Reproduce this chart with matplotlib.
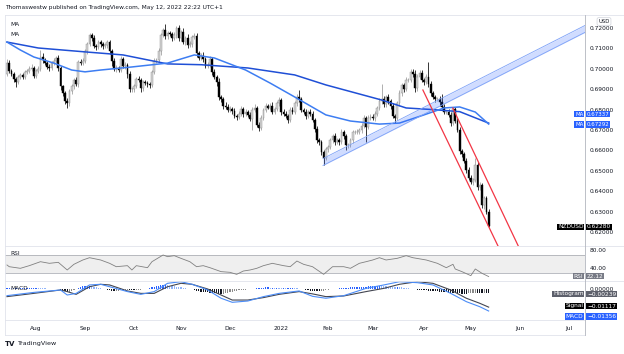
import numpy as np
import pandas as pd
import matplotlib
matplotlib.use('Agg')
import matplotlib.pyplot as plt
from matplotlib.lines import Line2D

W, H = 624, 354
FS = 4.2
TXT = '#131722'
BORDER = '#e0e3eb'
plt.rcParams['font.family'] = ['DejaVu Sans']

# NZD/USD daily closes, 14 Jul 2021 - 12 May 2022
jul = [0.7030, 0.6990, 0.6975, 0.6950, 0.6935, 0.6960, 0.6970, 0.6960, 0.6985, 0.6990, 0.7000, 0.7005, 0.6965]
aug = [0.6990, 0.7000, 0.7060, 0.7045, 0.7030, 0.7010, 0.7005, 0.7030, 0.7040, 0.7055, 0.7005,
       0.6915, 0.6880, 0.6840, 0.6830, 0.6890, 0.6915, 0.6945, 0.6925, 0.7035, 0.7030, 0.7040]
sep = [0.7085, 0.7120, 0.7165, 0.7150, 0.7110, 0.7105, 0.7130, 0.7120, 0.7110, 0.7115, 0.7130,
       0.7085, 0.7040, 0.7000, 0.7005, 0.6995, 0.7050, 0.7015, 0.7020, 0.6975, 0.6900, 0.6900]
oct_ = [0.6915, 0.6950, 0.6945, 0.6905, 0.6935, 0.6930, 0.6925, 0.6920, 0.6985, 0.7040, 0.7045,
        0.7085, 0.7165, 0.7190, 0.7160, 0.7175, 0.7170, 0.7150, 0.7165, 0.7200, 0.7150]
nov = [0.7180, 0.7130, 0.7150, 0.7115, 0.7120, 0.7155, 0.7160, 0.7075, 0.7055, 0.7065, 0.7050,
       0.7015, 0.7020, 0.7050, 0.6985, 0.6960, 0.6935, 0.6860, 0.6850, 0.6820, 0.6815, 0.6800]
dec = [0.6805, 0.6795, 0.6770, 0.6765, 0.6780, 0.6805, 0.6780, 0.6790, 0.6775, 0.6755, 0.6800, 0.6810,
       0.6725, 0.6710, 0.6760, 0.6800, 0.6820, 0.6810, 0.6820, 0.6790, 0.6805, 0.6830, 0.6845]
jan = [0.6790, 0.6780, 0.6770, 0.6750, 0.6800, 0.6790, 0.6830, 0.6860, 0.6850, 0.6800, 0.6790,
       0.6770, 0.6790, 0.6780, 0.6750, 0.6705, 0.6650, 0.6640, 0.6590, 0.6565, 0.6605]
feb = [0.6615, 0.6650, 0.6670, 0.6640, 0.6650, 0.6640, 0.6690, 0.6670, 0.6625, 0.6625,
       0.6650, 0.6690, 0.6690, 0.6690, 0.6700, 0.6720, 0.6757, 0.6715, 0.6760, 0.6765]
mar = [0.6760, 0.6780, 0.6810, 0.6840, 0.6850, 0.6825, 0.6860, 0.6840, 0.6820, 0.6770, 0.6760, 0.6830,
       0.6880, 0.6920, 0.6900, 0.6945, 0.6945, 0.6985, 0.6975, 0.6905, 0.6960, 0.6980, 0.6945]
apr = [0.6935, 0.6960, 0.6925, 0.6880, 0.6860, 0.6850, 0.6850, 0.6835, 0.6815, 0.6790, 0.6790,
       0.6775, 0.6735, 0.6805, 0.6745, 0.6700, 0.6595, 0.6580, 0.6550, 0.6505, 0.6465]
may = [0.6445, 0.6455, 0.6530, 0.6420, 0.6430, 0.6330, 0.6365, 0.6300, 0.6228]
first_open = 0.6975

# wick lengths beyond the body, in pips
wick_up = [20, 15, 10, 8, 10, 12, 10, 8, 10, 8, 15, 20, 10,
           10, 12, 30, 15, 10, 10, 12, 10, 12, 10, 15, 10, 8, 10, 15, 10, 12, 10, 15, 10, 12, 15,
           10, 10, 10, 12, 15, 10, 12, 10, 12, 10, 12, 10, 10, 15, 12, 10, 15, 10, 12, 10, 12, 10,
           10, 12, 15, 10, 12, 10, 10, 12, 10, 12, 10, 15, 10, 10, 30, 12, 10, 12, 15, 12, 15,
           10, 20, 12, 20, 15, 10, 15, 15, 10, 12, 15, 10, 15, 12, 10, 15, 12, 20, 12, 10, 15, 12,
           15, 10, 12, 10, 15, 12, 10, 12, 10, 15, 12, 15, 10, 12, 15, 10, 10, 8, 10, 15, 10, 12, 15,
           10, 12, 15, 10, 12, 12, 10, 15, 35, 12, 10, 15, 10, 15, 12, 10, 15, 12, 10, 12, 10,
           12, 10, 12, 15, 10, 12, 15, 12, 10, 12, 10, 12, 10, 15, 10, 12, 15, 10, 15, 12,
           15, 12, 10, 15, 75, 15, 12, 15, 10, 12, 10, 12, 15, 10, 12, 15, 10, 15, 12, 20, 15, 12, 15,
           12, 15, 75, 15, 12, 10, 12, 15, 40, 12, 10, 15, 12, 10, 7, 12, 15, 10, 12, 15, 12,
           15, 12, 35, 12, 15, 10, 12, 10, 12]
wick_dn = [10, 12, 10, 15, 25, 10, 12, 10, 8, 12, 10, 10, 12,
           12, 10, 10, 15, 12, 10, 15, 10, 12, 10, 15, 20, 15, 12, 20, 10, 12, 15, 10, 12, 10, 12,
           10, 12, 10, 12, 10, 12, 10, 15, 12, 10, 15, 12, 25, 12, 15, 10, 12, 10, 15, 20, 12, 15,
           15, 10, 12, 20, 12, 10, 12, 15, 10, 12, 10, 12, 15, 10, 12, 15, 10, 12, 10, 12, 15,
           12, 10, 15, 12, 10, 12, 10, 15, 12, 10, 15, 12, 10, 12, 15, 12, 20, 15, 12, 15, 10, 12,
           12, 15, 10, 15, 12, 10, 15, 12, 10, 12, 55, 12, 10, 15, 10, 12, 10, 8, 12, 10, 12, 10, 10,
           15, 12, 10, 15, 12, 10, 12, 10, 12, 10, 12, 15, 12, 10, 12, 15, 12, 15, 12, 35, 12,
           12, 10, 15, 12, 10, 12, 10, 15, 25, 12, 10, 12, 10, 12, 10, 15, 12, 75, 10, 12,
           12, 15, 10, 12, 15, 12, 10, 12, 15, 12, 25, 12, 10, 15, 12, 10, 12, 10, 15, 20, 12, 10, 12,
           12, 10, 15, 12, 10, 12, 10, 15, 12, 10, 12, 10, 15, 12, 10, 12, 15, 12, 10, 15, 12,
           12, 15, 10, 15, 12, 10, 15, 10, 5]

# moving averages (bar index, value)
ma_slow_idx = [0, 14, 36, 52, 72, 87, 108, 129, 143, 168, 179, 191, 203, 216]
ma_slow = [0.7131, 0.7102, 0.7082, 0.7068, 0.7024, 0.7020, 0.7004, 0.6970, 0.6921,
           0.6847, 0.6808, 0.6800, 0.6790, 0.67337]
ma_fast_idx = [0, 6, 12, 21, 29, 35, 42, 56, 72, 84, 93, 107, 118, 129, 143, 154, 167,
               176, 187, 196, 203, 210, 216]
ma_fast = [0.7131, 0.7092, 0.7058, 0.7028, 0.6994, 0.6985, 0.6994, 0.7009, 0.7028, 0.7068,
           0.7053, 0.6994, 0.6930, 0.6862, 0.6774, 0.6744, 0.6729, 0.6734, 0.6774, 0.6808,
           0.6813, 0.6788, 0.67292]

# drawings: rising channel (index, price) and falling red lines
chan_idx = [141.7, 259.1]
chan_mid = [0.6543, 0.7195]
chan_half = 0.0017
red1_idx, red1_p = [186.5, 223.2], [0.6896, 0.6063]
red2_idx, red2_p = [199.9, 232.2], [0.6808, 0.6064]

# RSI (bar index, value)
rsi_idx = [0, 1, 6, 10, 15, 19, 23, 27, 30, 34, 37, 42, 46, 49, 54, 56, 58, 63, 65, 70, 72, 75,
           78, 82, 85, 88, 91, 96, 100, 103, 106, 109, 112, 115, 119, 124, 127, 130, 133, 137,
           142, 146, 151, 154, 158, 161, 164, 167, 170, 175, 179, 182, 188, 193, 197, 200, 201,
           204, 208, 210, 213, 216]
rsi_val = [47.8, 44.0, 40.4, 46.3, 55.1, 51.5, 53.7, 36.7, 49.3, 58.9, 64.0, 58.9, 51.5, 44.0,
           46.3, 36.7, 46.3, 41.8, 55.1, 70.0, 66.3, 68.5, 62.6, 55.1, 44.0, 46.3, 41.8, 33.0,
           31.5, 27.0, 34.4, 36.7, 40.4, 46.3, 51.5, 46.3, 44.0, 56.6, 49.3, 44.0, 27.0, 44.0,
           44.0, 40.4, 51.5, 55.1, 58.9, 64.0, 58.9, 62.6, 68.5, 64.0, 58.9, 51.5, 41.8, 49.3,
           38.9, 33.0, 24.1, 38.9, 29.3, 22.12]

# MACD (bar index, macd, signal), histogram per bar in 1e-4
macd_idx = [0, 12, 24, 27, 31, 37, 42, 46, 54, 60, 66, 72, 78, 83, 90, 96, 101, 108, 115, 122,
            131, 137, 143, 151, 161, 169, 176, 184, 191, 199, 206, 212, 216]
macd_val = [-0.0041, -0.0021, -0.0006, -0.0037, -0.0027, 0.0025, 0.0029, 0.0014, -0.0016,
            -0.0033, -0.0016, 0.0035, 0.0045, 0.0029, -0.0006, -0.0057, -0.0082, -0.0074,
            -0.0047, -0.0027, -0.0012, -0.0045, -0.0057, -0.0041, 0.0004, 0.0025, 0.0045,
            0.0039, 0.0025, -0.0027, -0.0078, -0.0109, -0.01356]
signal_val = [-0.0047, -0.0027, -0.0006, -0.0016, -0.0033, 0.0014, 0.0029, 0.0025, -0.0012,
              -0.0027, -0.0027, 0.0014, 0.0035, 0.0029, 0.0000, -0.0037, -0.0068, -0.0068,
              -0.0053, -0.0033, -0.0016, -0.0030, -0.0047, -0.0043, -0.0016, 0.0004, 0.0029,
              0.0045, 0.0035, -0.0006, -0.0057, -0.0088, -0.01117]
hist = [6, 7, 6, 5, 5, 4, 4, 5, 5, 6, 6, 6, 7, 8, 7, 6, 5, 4, 3, 2, 2, 1, 0, -2, -5,
        -9, -14, -18, -16, -10, -4, 3, 9, 14, 17, 19, 20, 20, 18, 15, 12, 8, 4, 0, -3,
        -6, -9, -12, -13, -12, -10, -9, -8, -7, -6, -7, -8, -8, -7, -5, -4, -2, 0, 3, 7,
        10, 14, 17, 20, 22, 24, 24, 23, 21, 19, 17, 14, 12, 10, 8, 6, 3, 0, -3, -7,
        -11, -14, -17, -19, -20, -21, -22, -23, -24, -26, -28, -29, -28, -26, -24,
        -21, -18, -15, -12, -9, -7, -5, -4, -2, -1, 0, 2, 4, 6, 8, 9, 10, 10, 9, 9,
        8, 8, 7, 6, 6, 5, 5, 6, 6, 5, 4, 2, 0, -3, -6, -9, -12, -14, -15, -15,
        -15, -13, -11, -8, -5, -3, -1, 1, 3, 5, 6, 7, 8, 9, 10, 10, 11, 12, 13, 14,
        14, 15, 16, 17, 18, 19, 20, 20, 19, 18, 17, 15, 14, 13, 12, 12, 11, 10, 8, 6,
        4, 2, 0, -2, -4, -5, -6, -8, -9, -10, -11, -12, -13, -15, -17, -18, -20, -21, -22, -23,
        -24, -25, -26, -27, -28, -28, -28, -27, -26, -24, -23, -24, -25, -25, -24, -24, -24]

price_ticks = [0.62, 0.63, 0.64, 0.65, 0.66, 0.67, 0.68, 0.69, 0.70, 0.71, 0.72]
month_labels = ['Aug', 'Sep', 'Oct', 'Nov', 'Dec', '2022', 'Feb', 'Mar', 'Apr', 'May', 'Jun', 'Jul']

closes = np.array(jul + aug + sep + oct_ + nov + dec + jan + feb + mar + apr + may)
opens = np.r_[first_open, closes[:-1]]
highs = np.maximum(opens, closes) + np.array(wick_up) * 1e-4
lows = np.minimum(opens, closes) - np.array(wick_dn) * 1e-4
x = np.arange(len(closes))
dates = pd.bdate_range('2021-07-14', periods=262)
month_pos = [i for i in range(1, len(dates)) if dates[i].month != dates[i - 1].month]


def rect(x0, y0, x1, y1):
    return [x0 / W, 1 - y1 / H, (x1 - x0) / W, (y1 - y0) / H]


def fx(px):
    return px / W


def fy(py):
    return 1 - py / H


fig = plt.figure(figsize=(W / 100, H / 100), dpi=100)
ax = fig.add_axes(rect(5, 15, 585, 246))
ax_rsi = fig.add_axes(rect(5, 246, 585, 281), sharex=ax)
ax_macd = fig.add_axes(rect(5, 281, 585, 320), sharex=ax)

for a in (ax, ax_rsi, ax_macd):
    for s in a.spines.values():
        s.set_visible(False)
    a.yaxis.tick_right()
    a.tick_params(axis='y', length=0, pad=3.5, labelsize=FS, labelcolor=TXT)
    a.tick_params(axis='x', length=0)
    a.set_facecolor('none')

# candles
up = closes >= opens
ax.vlines(x, lows, highs, colors=np.where(up, '#9a9a9a', '#000000'), lw=0.55, zorder=2)
ax.bar(x, np.maximum(np.abs(closes - opens), 0.00012), bottom=np.minimum(opens, closes),
       width=0.8, color=np.where(up, '#d4d4d4', '#000000'),
       edgecolor=np.where(up, '#8a8a8a', '#000000'), linewidth=0.3, zorder=3)

ax.plot(ma_slow_idx, ma_slow, color='#1f4fd6', lw=1.1, zorder=4)
ax.plot(ma_fast_idx, ma_fast, color='#3d7df2', lw=1.1, zorder=4)

ci = np.array(chan_idx)
cm = np.array(chan_mid)
ax.fill_between(ci, cm - chan_half, cm + chan_half, color='#2962ff', alpha=0.22, lw=0, zorder=5)
ax.plot(ci, cm - chan_half, color='#7ea2f7', lw=0.6, zorder=5)
ax.plot(ci, cm + chan_half, color='#7ea2f7', lw=0.6, zorder=5)
ax.plot(red1_idx, red1_p, color='#f23645', lw=0.9, zorder=6)
ax.plot(red2_idx, red2_p, color='#f23645', lw=0.9, zorder=6)

ax.set_xlim(-0.9, 259.2)
ax.set_ylim(0.61314, 0.72637)
ax.set_yticks(price_ticks)
ax.set_yticklabels(['%.5f' % p for p in price_ticks])
ax.tick_params(axis='x', labelbottom=False)
ax.text(0.009, 0.96, 'MA', transform=ax.transAxes, fontsize=FS, color=TXT, va='center')
ax.text(0.009, 0.915, 'MA', transform=ax.transAxes, fontsize=FS, color=TXT, va='center')

# RSI pane
ax_rsi.axhspan(30, 70, color='#efefef', lw=0, zorder=0)
ax_rsi.axhline(70, color='#a0a3ab', lw=0.5)
ax_rsi.axhline(30, color='#a0a3ab', lw=0.5)
ax_rsi.plot(rsi_idx, rsi_val, color='#808080', lw=0.6, zorder=3)
ax_rsi.set_ylim(12.2, 90)
ax_rsi.set_yticks([80, 40])
ax_rsi.set_yticklabels(['80.00', '40.00'])
ax_rsi.tick_params(axis='x', labelbottom=False)
ax_rsi.text(0.009, 0.78, 'RSI', transform=ax_rsi.transAxes, fontsize=FS, color=TXT, va='center')

# MACD pane
h = np.array(hist) * 1e-4
dh = np.diff(np.r_[h[0], h])
hcol = np.where(h >= 0, np.where(dh >= 0, '#2962ff', '#90b4fb'),
                np.where(dh <= 0, '#131722', '#8a8a8a'))
ax_macd.bar(x, h, width=0.55, color=hcol, lw=0, zorder=2)
ax_macd.plot(macd_idx, signal_val, color='#434651', lw=0.8, zorder=3)
ax_macd.plot(macd_idx, macd_val, color='#4b8cf7', lw=0.8, zorder=3)
ax_macd.set_ylim(-0.0191, 0.00493)
ax_macd.set_yticks([0])
ax_macd.set_yticklabels(['0.00000'])
ax_macd.text(0.009, 0.795, 'MACD', transform=ax_macd.transAxes, fontsize=FS, color=TXT, va='center')
ax_macd.set_xticks(month_pos)
ax_macd.set_xticklabels(month_labels)
ax_macd.tick_params(axis='x', labelsize=FS, labelcolor=TXT, pad=4)

# frame lines
for yy in (15, 246, 281):
    fig.add_artist(Line2D([fx(5), 1], [fy(yy), fy(yy)], color=BORDER, lw=0.6))
for yy in (320, 335):
    fig.add_artist(Line2D([fx(5), fx(585)], [fy(yy), fy(yy)], color=BORDER, lw=0.6))
fig.add_artist(Line2D([fx(5), fx(5)], [fy(15), fy(335)], color=BORDER, lw=0.6))
fig.add_artist(Line2D([fx(585), fx(585)], [fy(15), fy(335)], color='#b2b5be', lw=0.6))


def tag(py, name, value, bg, fs=FS):
    kw = dict(fontsize=fs, color='white', va='center')
    fig.text(fx(583.5), fy(py), name, ha='right',
             bbox=dict(boxstyle='square,pad=0.12', fc=bg, ec='none'), **kw)
    fig.text(fx(587), fy(py), value, ha='left',
             bbox=dict(boxstyle='square,pad=0.12', fc=bg, ec='none'), **kw)


tag(114, 'MA', '0.67337', '#2962ff', 4.0)
tag(124.5, 'MA', '0.67292', '#2962ff', 4.0)
tag(227, 'NZDUSD', '0.62280', '#000000')
tag(276, 'RSI', '22.12', '#787b86')
tag(294, 'Histogram', '\u22120.00239', '#5d606b')
tag(306, 'Signal', '\u22120.01117', '#000000')
tag(316.5, 'MACD', '\u22120.01356', '#2962ff')

fig.text(fx(604), fy(21.5), 'USD', fontsize=3.8, color=TXT, ha='center', va='center',
         bbox=dict(boxstyle='round,pad=0.25,rounding_size=0.3', fc='white', ec='#d1d4dc', lw=0.5))

fig.text(fx(5), fy(8), 'Thomaswestw published on TradingView.com, May 12, 2022 22:22 UTC+1',
         fontsize=FS, color=TXT, va='center', ha='left')
fig.text(fx(5), fy(344), 'TV', fontsize=5, fontweight='heavy', color=TXT, va='center', ha='left')
fig.text(fx(17.5), fy(344), 'TradingView', fontsize=4.6, color=TXT, va='center', ha='left')

fig.savefig('out.png', dpi=100, facecolor='white')
